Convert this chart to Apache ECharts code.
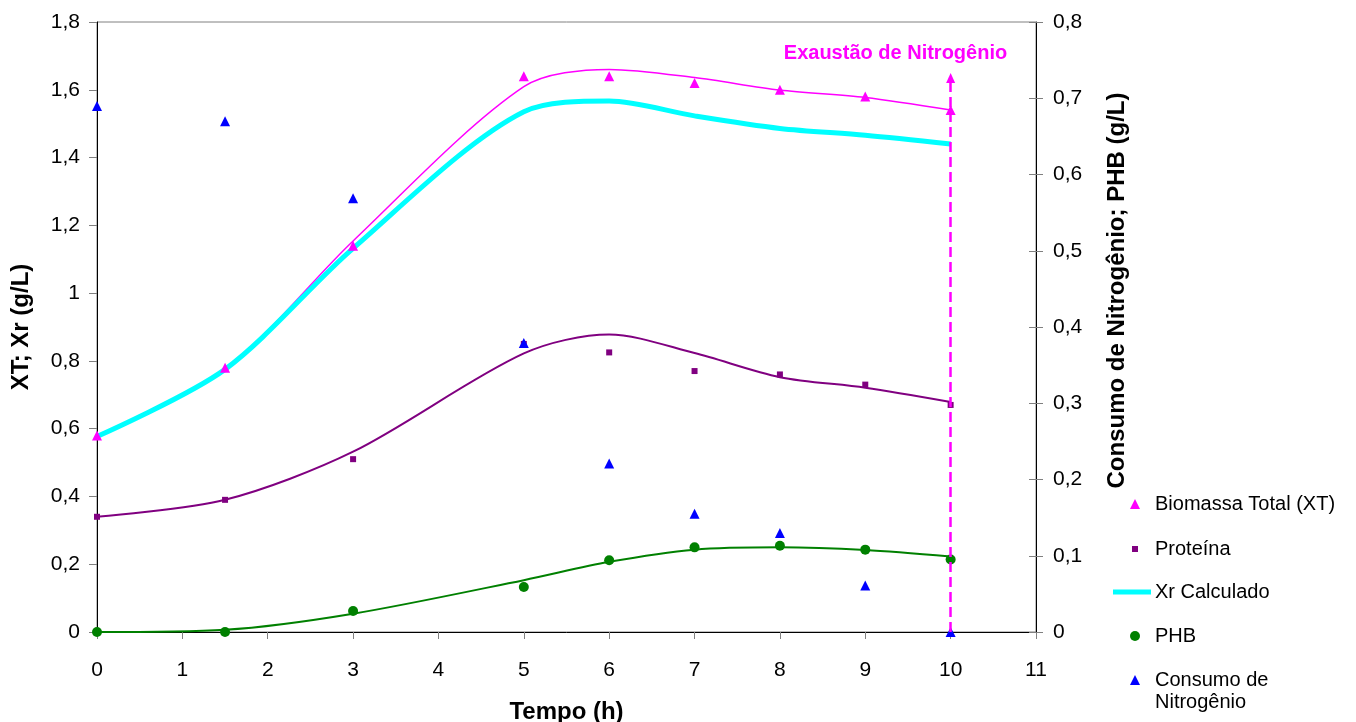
<!DOCTYPE html>
<html><head><meta charset="utf-8">
<script src="https://cdn.jsdelivr.net/npm/echarts@6/dist/echarts.min.js"></script>
<style>html,body{margin:0;padding:0;background:#fff}#c{width:1356px;height:722px}</style>
</head><body><div id="c"></div>
<script>
// ---- data ----
const times = [0, 1.5, 3, 5, 6, 7, 8, 9, 10];
// measured points
const biomassaTotal = [0.58, 0.78, 1.14, 1.64, 1.64, 1.62, 1.60, 1.58, 1.54];      // left axis
const proteina      = [0.34, 0.39, 0.51, 0.85, 0.825, 0.77, 0.76, 0.73, 0.67];    // left axis
const phb           = [0, 0, 0.0275, 0.059, 0.094, 0.111, 0.113, 0.108, 0.095];    // right axis
const consumoN      = [0.69, 0.67, 0.569, 0.379, 0.221, 0.155, 0.130, 0.061, 0];   // right axis
// fitted / calculated curves
const xrCalculado   = [0.577, 0.775, 1.132, 1.535, 1.567, 1.523, 1.486, 1.466, 1.440];
const biomassaFit   = [0.577, 0.775, 1.154, 1.609, 1.660, 1.636, 1.599, 1.577, 1.540];
const proteinaFit   = [0.34, 0.39, 0.532, 0.822, 0.878, 0.823, 0.752, 0.721, 0.679];
const phbFit        = [0, 0.003, 0.024, 0.068, 0.092, 0.108, 0.111, 0.1075, 0.099];
// annotation
const exaustaoTime = 10;
const exaustaoTop = 1.635;
const annotText = 'Exaustão de Nitrogênio';
const annotPos = [9.354, 1.708];
// axes
const xMin = 0, xMax = 11, xStep = 1;
const yLeftMin = 0, yLeftMax = 1.8, yLeftStep = 0.2;
const yRightMin = 0, yRightMax = 0.8, yRightStep = 0.1;

const FONT = 'Arial, "Liberation Sans", sans-serif';
const SMOOTH = 0.3;
const pairs = (xs, ys) => xs.map((x, i) => [x, ys[i]]);
const fmt = v => String(+(+v).toFixed(2)).replace('.', ',');

const NAMES = {
  xt: 'Biomassa Total (XT)', prot: 'Proteína', xr: 'Xr Calculado',
  phb: 'PHB', n: 'Consumo de Nitrogênio'
};

// icon centred at iconCx, text starting at textX
function legendFor(name, iconCx, centerY, w, h, textX, extra) {
  const fs = 20;
  extra = extra || {};
  const left = iconCx - w / 2;
  const padLeft = textX - (left + w + 5);
  const ts = { fontFamily: FONT, fontSize: fs, color: '#000', padding: [0, 0, 0, padLeft] };
  let top = centerY - fs / 2 + 1;
  if (extra.lineHeight) {
    ts.lineHeight = extra.lineHeight;
    top = centerY - extra.lineHeight * 1.5 + 1;
  }
  const lg = {
    show: true, data: [extra.icon ? { name: name, icon: extra.icon } : name],
    orient: 'vertical', left: left, top: top,
    padding: 0, itemWidth: w, itemHeight: h, selectedMode: false,
    textStyle: ts
  };
  if (extra.formatter) lg.formatter = extra.formatter;
  return lg;
}

const chart = echarts.init(document.getElementById('c'), null, { renderer: 'canvas' });
const option = {
  animation: false,
  backgroundColor: '#fff',
  textStyle: { fontFamily: FONT },
  grid: { left: 97, right: 320, top: 22, bottom: 90, containLabel: false, outerBoundsMode: 'none',
    show: true, borderColor: '#808080', borderWidth: 1, backgroundColor: 'transparent' },
  legend: [
    legendFor(NAMES.xt, 1135, 503, 10, 10, 1155),
    legendFor(NAMES.prot, 1135, 548, 6, 6, 1155),
    legendFor(NAMES.xr, 1132, 591, 38, 5, 1155, { icon: 'rect' }),
    legendFor(NAMES.phb, 1135, 635, 10, 10, 1155),
    legendFor(NAMES.n, 1135, 679, 10, 10, 1155, { lineHeight: 22, formatter: () => ' \nConsumo de\nNitrogênio' })
  ],
  xAxis: {
    type: 'value', min: xMin, max: xMax, interval: xStep,
    name: 'Tempo (h)', nameLocation: 'middle', nameGap: 68,
    nameTextStyle: { fontFamily: FONT, fontSize: 24, fontWeight: 'bold', color: '#000' },
    axisLine: { lineStyle: { color: '#000', width: 1 } },
    axisTick: { show: true, inside: false, length: 7, lineStyle: { color: '#808080' } },
    axisLabel: { fontFamily: FONT, fontSize: 21, color: '#000', margin: 28, formatter: fmt },
    splitLine: { show: false }
  },
  yAxis: [
    {
      type: 'value', position: 'left', min: yLeftMin, max: yLeftMax, interval: yLeftStep,
      name: 'XT; Xr (g/L)', nameLocation: 'middle', nameRotate: 90, nameGap: 64,
      nameTextStyle: { fontFamily: FONT, fontSize: 24, fontWeight: 'bold', color: '#000' },
      axisLine: { show: true, lineStyle: { color: '#000', width: 1 } },
      axisTick: { show: true, inside: false, length: 8, lineStyle: { color: '#808080' } },
      axisLabel: { fontFamily: FONT, fontSize: 21, color: '#000', margin: 17, formatter: fmt },
      splitLine: { show: false }
    },
    {
      type: 'value', position: 'right', min: yRightMin, max: yRightMax, interval: yRightStep,
      name: 'Consumo de Nitrogênio; PHB (g/L)', nameLocation: 'middle', nameRotate: 90, nameGap: 69,
      nameTextStyle: { fontFamily: FONT, fontSize: 24, fontWeight: 'bold', color: '#000', padding: [0, 0, 0, 73] },
      axisLine: { show: true, lineStyle: { color: '#000', width: 1 } },
      axisTick: { show: true, inside: false, length: 7, lineStyle: { color: '#808080' } },
      axisLabel: { fontFamily: FONT, fontSize: 21, color: '#000', margin: 17, formatter: fmt },
      splitLine: { show: false }
    },
    {
      type: 'value', position: 'right', min: yRightMin, max: yRightMax, interval: yRightStep,
      axisLine: { show: false },
      axisTick: { show: true, inside: true, length: 7, lineStyle: { color: '#808080' } },
      axisLabel: { show: false },
      splitLine: { show: false }
    }
  ],
  series: [
    { name: 'fitXT', type: 'line', yAxisIndex: 0, data: pairs(times, biomassaFit), smooth: SMOOTH,
      showSymbol: false, symbol: 'none', lineStyle: { color: '#FF00FF', width: 1.5 }, silent: true, z: 2 },
    { name: 'fitProt', type: 'line', yAxisIndex: 0, data: pairs(times, proteinaFit), smooth: SMOOTH,
      showSymbol: false, symbol: 'none', lineStyle: { color: '#800080', width: 2 }, silent: true, z: 2 },
    { name: 'fitPHB', type: 'line', yAxisIndex: 1, data: pairs(times, phbFit), smooth: SMOOTH,
      showSymbol: false, symbol: 'none', lineStyle: { color: '#008000', width: 2 }, silent: true, z: 2 },
    { name: NAMES.xr, type: 'line', yAxisIndex: 0, data: pairs(times, xrCalculado), smooth: SMOOTH,
      showSymbol: false, symbol: 'none', itemStyle: { color: '#00FFFF' },
      lineStyle: { color: '#00FFFF', width: 5 }, z: 3 },
    { name: NAMES.prot, type: 'scatter', yAxisIndex: 0, data: pairs(times, proteina),
      symbol: 'rect', symbolSize: 6, itemStyle: { color: '#800080', opacity: 1 }, z: 4 },
    { name: NAMES.phb, type: 'scatter', yAxisIndex: 1, data: pairs(times, phb),
      symbol: 'circle', symbolSize: 10, itemStyle: { color: '#008000', opacity: 1 }, z: 4 },
    { name: NAMES.n, type: 'scatter', yAxisIndex: 1, data: pairs(times, consumoN),
      symbol: 'triangle', symbolSize: 10, itemStyle: { color: '#0000FF', opacity: 1 }, z: 4 },
    { name: NAMES.xt, type: 'scatter', yAxisIndex: 0, data: pairs(times, biomassaTotal),
      symbol: 'triangle', symbolSize: 10, itemStyle: { color: '#FF00FF', opacity: 1 }, z: 5,
      markLine: {
        silent: true, symbol: ['none', 'triangle'], symbolSize: [9, 10], animation: false,
        lineStyle: { color: '#FF00FF', width: 2.5, type: [10, 5] },
        label: { show: false },
        data: [[{ coord: [exaustaoTime, 0] }, { coord: [exaustaoTime, exaustaoTop] }]]
      },
      markPoint: {
        silent: true, animation: false,
        data: [{ coord: annotPos, symbol: 'circle', symbolSize: 0,
          label: { show: true, position: 'inside', formatter: annotText, color: '#FF00FF',
            fontFamily: FONT, fontWeight: 'bold', fontSize: 20 } }]
      }
    }
  ]
};
chart.setOption(option);
</script>
</body></html>
